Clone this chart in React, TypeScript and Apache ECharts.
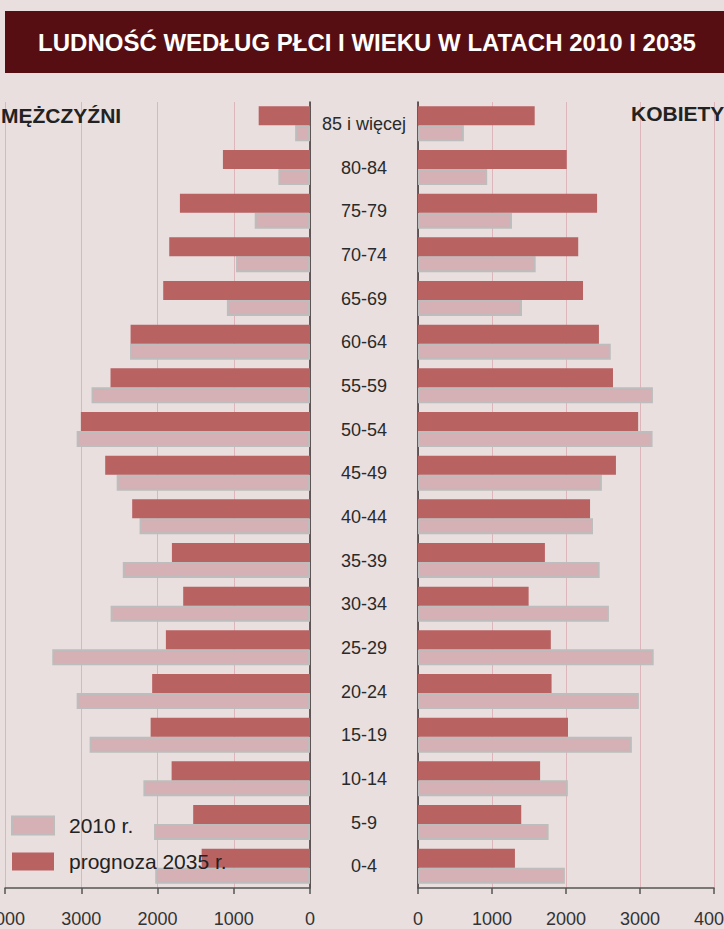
import React, { useEffect, useRef } from "react";
import * as echarts from "echarts";

const categories = ["85 i więcej", "80-84", "75-79", "70-74", "65-69", "60-64", "55-59", "50-54", "45-49", "40-44", "35-39", "30-34", "25-29", "20-24", "15-19", "10-14", "5-9", "0-4"];
const men2035 = [673, 1142, 1706, 1846, 1925, 2353, 2616, 3005, 2686, 2332, 1811, 1663, 1890, 2070, 2090, 1815, 1532, 1421];
const men2010 = [195, 415, 725, 970, 1090, 2360, 2865, 3060, 2535, 2235, 2455, 2615, 3380, 3060, 2890, 2185, 2045, 2030];
const women2035 = [1577, 2010, 2420, 2165, 2230, 2445, 2635, 2975, 2675, 2325, 1715, 1495, 1795, 1805, 2027, 1650, 1395, 1310];
const women2010 = [620, 935, 1270, 1590, 1405, 2605, 3175, 3170, 2485, 2365, 2455, 2580, 3185, 2985, 2890, 2025, 1765, 1985];
const valueTicks = { min: 0, max: 4000, interval: 1000 };

const FONT = "'Liberation Sans', Arial, sans-serif";
const DARK = "#b96262";
const LIGHT = "#d5b0b4";
const BORDER = "#bdbdbd";
const GRIDLINE = "#dcb6bb";

export default function App() {
  const ref = useRef<HTMLDivElement>(null);
  useEffect(() => {
    if (!ref.current) return;
    const chart = echarts.init(ref.current, null, { renderer: "svg" });
    const valueAxis = (gridIndex: number, inverse: boolean) => ({
      type: "value",
      gridIndex,
      inverse,
      min: valueTicks.min,
      max: valueTicks.max,
      interval: valueTicks.interval,
      axisLine: { show: true, lineStyle: { color: "#555", width: 1.5 } },
      axisTick: { show: true, length: 6, lineStyle: { color: "#555", width: 1.5 } },
      axisLabel: { fontFamily: FONT, fontSize: 18, color: "#333", margin: 22, formatter: (v: number) => String(v), hideOverlap: false },
      splitLine: { show: true, lineStyle: { color: GRIDLINE, width: 1 } },
    });
    const darkStyle = { color: DARK };
    const lightStyle = { color: LIGHT, borderColor: BORDER, borderWidth: 2 };
    chart.setOption({
      animation: false,
      backgroundColor: "#e9dfdf",
      textStyle: { fontFamily: FONT },
      grid: [
        { left: 5, right: 414, top: 102, bottom: 41, containLabel: false, outerBoundsMode: "none" },
        { left: 418, right: 10, top: 102, bottom: 41, containLabel: false, outerBoundsMode: "none" },
      ],
      xAxis: [valueAxis(0, true), valueAxis(1, false)],
      yAxis: [
        {
          type: "category",
          gridIndex: 0,
          data: categories,
          inverse: true,
          position: "right",
          axisLine: { show: true, lineStyle: { color: "#333", width: 1.5 } },
          axisTick: { show: false },
          axisLabel: { fontFamily: FONT, fontSize: 18, color: "#2a2a2a", margin: 54, align: "center", padding: [4, 0, 0, 0] },
        },
        {
          type: "category",
          gridIndex: 1,
          data: categories,
          inverse: true,
          position: "left",
          axisLine: { show: true, lineStyle: { color: "#333", width: 1.5 } },
          axisTick: { show: false },
          axisLabel: { show: false },
        },
      ],
      legend: {
        data: ["2010 r.", "prognoza 2035 r."],
        orient: "vertical",
        left: 11,
        top: 815,
        padding: 0,
        itemWidth: 42,
        itemHeight: 18,
        itemGap: 15,
        icon: "rect",
        textStyle: { fontFamily: FONT, fontSize: 21, color: "#222", padding: [0, 0, 0, 10] },
      },
      series: [
        { name: "prognoza 2035 r.", type: "bar", xAxisIndex: 0, yAxisIndex: 0, data: men2035, barWidth: 19, barGap: "0%", itemStyle: darkStyle, z: 3 },
        { name: "2010 r.", type: "bar", xAxisIndex: 0, yAxisIndex: 0, data: men2010, barWidth: 16, itemStyle: lightStyle, z: 2 },
        { name: "prognoza 2035 r.", type: "bar", xAxisIndex: 1, yAxisIndex: 1, data: women2035, barWidth: 19, barGap: "0%", itemStyle: darkStyle, z: 3 },
        { name: "2010 r.", type: "bar", xAxisIndex: 1, yAxisIndex: 1, data: women2010, barWidth: 16, itemStyle: lightStyle, z: 2 },
      ],
      graphic: [
        { type: "rect", shape: { x: 5, y: 11, width: 719, height: 62 }, style: { fill: "#560e12" }, z: 10 },
        {
          type: "text", x: 367, y: 42, z: 11,
          style: { text: "LUDNOŚĆ WEDŁUG PŁCI I WIEKU W LATACH 2010 I 2035", fill: "#ffffff", font: `bold 24px ${FONT}`, textAlign: "center", textVerticalAlign: "middle" },
        },
        {
          type: "text", x: 1, y: 115, z: 11,
          style: { text: "MĘŻCZYŹNI", fill: "#222", font: `bold 21px ${FONT}`, textAlign: "left", textVerticalAlign: "middle" },
        },
        {
          type: "text", x: 631, y: 113, z: 11,
          style: { text: "KOBIETY", fill: "#222", font: `bold 21px ${FONT}`, textAlign: "left", textVerticalAlign: "middle" },
        },
      ],
    });
    return () => chart.dispose();
  }, []);
  return <div ref={ref} style={{ position: "absolute", left: 0, top: 0, width: 724, height: 929 }} />;
}
